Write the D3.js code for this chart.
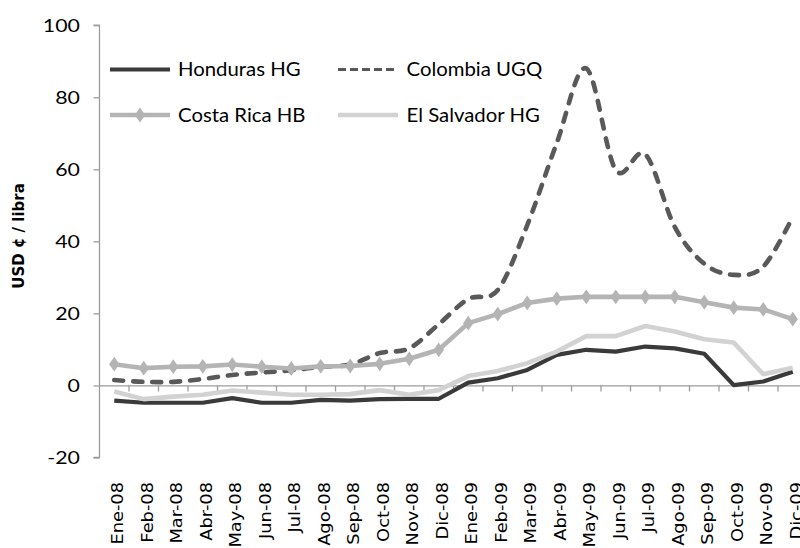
<!DOCTYPE html>
<html>
<head>
<meta charset="utf-8">
<script src="https://cdn.jsdelivr.net/npm/d3@7"></script>
<style>
  html, body { margin: 0; padding: 0; background: #fff; }
  svg { display: block; }
</style>
</head>
<body>
<svg id="chart" width="800" height="548"></svg>
<script>
// ---- Data ----
const months = ["Ene-08","Feb-08","Mar-08","Abr-08","May-08","Jun-08","Jul-08","Ago-08","Sep-08","Oct-08","Nov-08","Dic-08",
                "Ene-09","Feb-09","Mar-09","Abr-09","May-09","Jun-09","Jul-09","Ago-09","Sep-09","Oct-09","Nov-09","Dic-09"];
const honduras   = [-4.2,-4.8,-4.8,-4.8,-3.5,-4.8,-4.8,-4.0,-4.2,-3.8,-3.7,-3.7, 0.8, 2.0, 4.3, 8.5, 9.9, 9.4,10.8,10.3, 8.8, 0.1, 1.1, 3.8];
const colombia   = [ 1.5, 1.0, 1.0, 1.8, 2.9, 3.6, 4.2, 5.2, 5.8, 9.0,10.3,17.0,24.0,26.5,44.5,67.3,88.0,59.8,64.2,44.0,33.8,30.7,33.0,46.8];
const costaRica  = [ 5.9, 4.8, 5.2, 5.3, 5.8, 5.2, 4.7, 5.3, 5.4, 6.0, 7.4, 9.9,17.3,19.8,22.9,24.1,24.6,24.6,24.6,24.6,23.1,21.6,21.1,18.4];
const elSalvador = [-1.7,-3.8,-3.1,-2.6,-1.4,-2.0,-2.6,-2.6,-2.4,-1.3,-2.6,-1.3, 2.6, 4.0, 6.2, 9.4,13.7,13.7,16.5,15.0,12.8,11.9, 3.1, 4.9];
const seriesNames = ["Honduras HG","Colombia UGQ","Costa Rica HB","El Salvador HG"];
const yTicks = [-20, 0, 20, 40, 60, 80, 100];
const yTitle = "USD ¢ / libra";

// ---- Styles ----
const styles = [
  {color:"#3a3a3a", width:4.2, dash:null, legendDash:null, marker:false, smooth:false},
  {color:"#595959", width:4.6, dash:"9,10", legendDash:"8,4", marker:false, smooth:true},
  {color:"#b4b4b4", width:4.6, dash:null, legendDash:null, marker:true, smooth:false},
  {color:"#d2d2d2", width:4.6, dash:null, legendDash:null, marker:false, smooth:false}
];
const seriesData = [honduras, colombia, costaRica, elSalvador];

const svg = d3.select("#chart");
const axisX0 = 99.5;
const band = 29.5;

const x = d3.scaleBand().domain(months).range([axisX0, axisX0 + band * months.length]).paddingInner(0).paddingOuter(0);
const y = d3.scaleLinear().domain([-20, 100]).range([457.5, 25.2]);

const axisColor = "#9c9c9c";
const labelFont = "Lato, 'Open Sans', sans-serif";

// Y axis
const yAxis = svg.append("g").attr("transform", `translate(${axisX0},0)`)
  .call(d3.axisLeft(y).tickValues(yTicks).tickSize(6).tickFormat(""));
yAxis.select(".domain").attr("stroke", axisColor).attr("stroke-width", 1.3).attr("d", `M-6,${y(-20)}H0V${y(100)}H-6`);
yAxis.selectAll(".tick line").attr("stroke", axisColor).attr("stroke-width", 1.3);

// Y tick labels
svg.append("g").selectAll("text").data(yTicks).join("text")
  .attr("transform", d => `translate(80,${y(d)}) scale(1.22,1)`)
  .attr("text-anchor", "end")
  .attr("dy", "0.36em")
  .attr("font-family", labelFont)
  .attr("font-size", 17.5)
  .attr("fill", "#000")
  .text(d => d);

// X axis at zero
const xAxis = svg.append("g").attr("transform", `translate(0,${y(0)})`)
  .call(d3.axisBottom(x).tickSize(0).tickFormat(""));
xAxis.select(".domain").attr("stroke", axisColor).attr("stroke-width", 1.3);
svg.append("g").selectAll("line").data(months.slice(1)).join("line")
  .attr("x1", d => x(d)).attr("x2", d => x(d))
  .attr("y1", y(0)).attr("y2", y(0) + 6)
  .attr("stroke", axisColor).attr("stroke-width", 1.3);

// X labels (rotated)
svg.append("g").selectAll("text").data(months).join("text")
  .attr("transform", d => `translate(${x(d) + x.bandwidth()/2 + 9},482) rotate(-90) scale(1.15,1)`)
  .attr("text-anchor", "end")
  .attr("font-family", "'DejaVu Sans', Verdana, sans-serif")
  .attr("font-size", 15.5)
  .attr("fill", "#000")
  .text(d => d);

// Y title
svg.append("text")
  .attr("transform", `translate(24,236) rotate(-90)`)
  .attr("text-anchor", "middle")
  .attr("font-family", "'DejaVu Sans', Verdana, sans-serif")
  .attr("font-weight", "bold")
  .attr("font-size", 15)
  .attr("fill", "#000")
  .text(yTitle);

// Lines
const cx = (d, i) => x(months[i]) + x.bandwidth() / 2;
seriesData.forEach((vals, si) => {
  const st = styles[si];
  const line = d3.line().x(cx).y(d => y(d))
    .curve(st.smooth ? d3.curveCatmullRom.alpha(0) : d3.curveLinear);
  svg.append("path")
    .datum(vals)
    .attr("d", line)
    .attr("fill", "none")
    .attr("stroke", st.color)
    .attr("stroke-width", st.width)
    .attr("stroke-linejoin", "round")
    .attr("stroke-linecap", st.dash ? "round" : "butt")
    .attr("stroke-dasharray", st.dash);
  if (st.marker) {
    svg.append("g").selectAll("path").data(vals).join("path")
      .attr("d", d3.symbol(d3.symbolDiamond, 70))
      .attr("transform", (d, i) => `translate(${cx(d, i)},${y(d)}) scale(1.15,0.95)`)
      .attr("fill", st.color);
  }
});

// Legend
const legendPos = [
  {lx:110, ty:69.5, tx:178},
  {lx:338, ty:69.5, tx:406.5},
  {lx:110, ty:115, tx:178},
  {lx:338, ty:115, tx:406.5}
];
const legend = svg.append("g");
seriesNames.forEach((name, si) => {
  const st = styles[si], p = legendPos[si];
  legend.append("line")
    .attr("x1", p.lx).attr("x2", p.lx + 60)
    .attr("y1", p.ty).attr("y2", p.ty)
    .attr("stroke", st.color)
    .attr("stroke-width", st.dash ? 3.2 : st.width)
    .attr("stroke-dasharray", st.legendDash);
  if (st.marker) {
    legend.append("path")
      .attr("d", d3.symbol(d3.symbolDiamond, 70))
      .attr("transform", `translate(${p.lx + 30},${p.ty}) scale(1.15,0.95)`)
      .attr("fill", st.color);
  }
  legend.append("text")
    .attr("transform", `translate(${p.tx},${p.ty}) scale(1.1,1)`)
    .attr("dy", "0.36em")
    .attr("font-family", labelFont)
    .attr("font-size", 18.5)
    .attr("fill", "#000")
    .text(name);
});
</script>
</body>
</html>
